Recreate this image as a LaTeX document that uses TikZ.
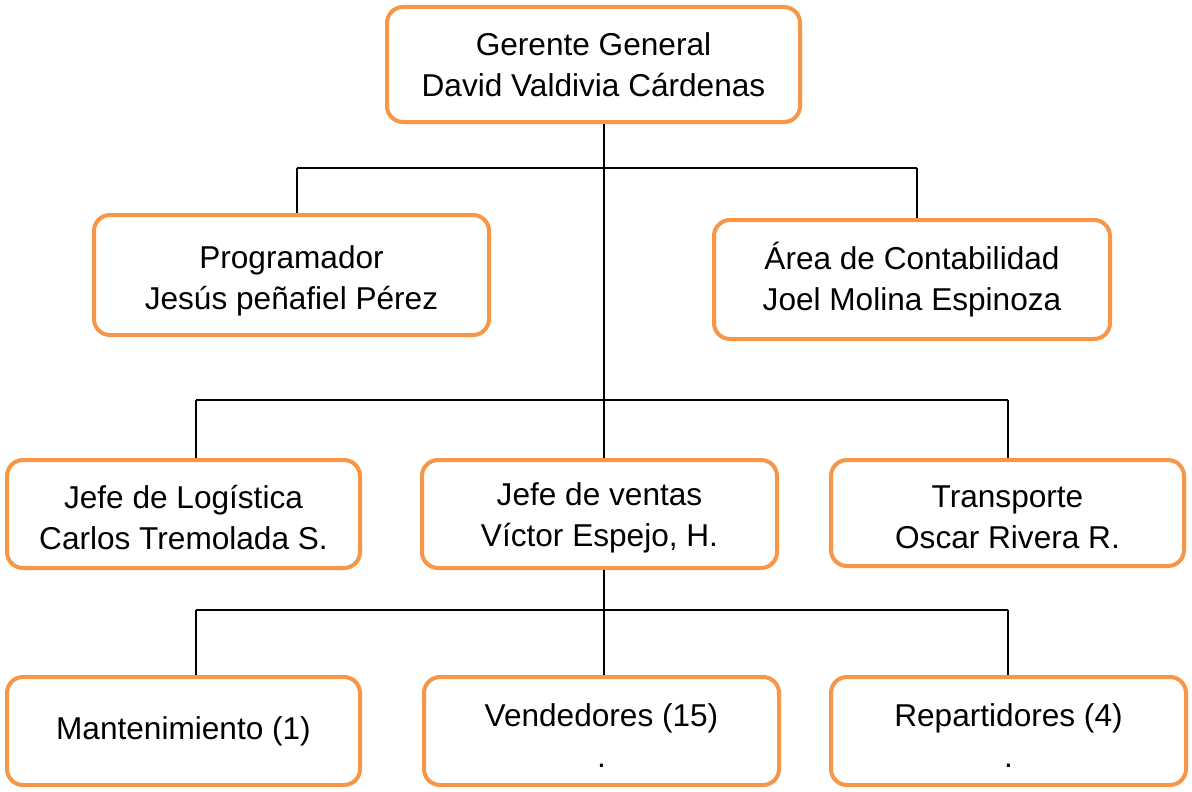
\documentclass[tikz,border=0pt]{standalone}
\usepackage{fontspec}
\setmainfont{Liberation Sans}
\definecolor{boxorange}{HTML}{F79646}
\begin{document}
\begin{tikzpicture}[x=1pt,y=-1pt,
  box/.style={draw=boxorange, line width=4pt, rounded corners=16pt, fill=white,
    inner sep=0pt},
  txt/.style={align=center, inner sep=0pt, font=\fontsize{31.6}{41}\selectfont},
  conn/.style={draw=black, line width=2pt}]
\useasboundingbox[fill=white] (0,0) rectangle (1192,792);
\node[box, minimum width=413pt, minimum height=115pt, label={[txt,yshift=0pt]center:Gerente General\\David Valdivia Cárdenas}] (top) at (593.5,64.5) {};
\node[box, minimum width=395pt, minimum height=120pt, label={[txt,yshift=-6pt]center:Programador\\Jesús peñafiel Pérez}] (prog) at (291.5,275) {};
\node[box, minimum width=396pt, minimum height=119pt, label={[txt,yshift=0pt]center:Área de Contabilidad\\Joel Molina Espinoza}] (cont) at (912,279.5) {};
\node[box, minimum width=353pt, minimum height=108pt, label={[txt,yshift=-4pt]center:Jefe de Logística\\Carlos Tremolada S.}] (log) at (183.5,514) {};
\node[box, minimum width=355pt, minimum height=108pt, label={[txt,yshift=-4pt]center:Jefe de ventas\\Víctor Espejo, H.}] (ventas) at (599.5,514) {};
\node[box, minimum width=353pt, minimum height=106pt, label={[txt,yshift=-4pt]center:Transporte\\Oscar Rivera R.}] (trans) at (1007.5,513) {};
\node[box, minimum width=353pt, minimum height=108pt, label={[txt,yshift=0pt]center:Mantenimiento (1)}] (mant) at (183.5,731) {};
\node[box, minimum width=355pt, minimum height=108pt, label={[txt,yshift=-5pt]center:Vendedores (15)\\.}] (vend) at (601.5,731) {};
\node[box, minimum width=355pt, minimum height=108pt, label={[txt,yshift=-5pt]center:Repartidores (4)\\.}] (rep) at (1008.5,731) {};
\coordinate (t) at (604,0);
\coordinate (h1) at (0,168);
\coordinate (h2) at (0,400);
\coordinate (h3) at (0,610);
\coordinate (l1) at (297,0);
\coordinate (r1) at (917,0);
\coordinate (l2) at (196,0);
\coordinate (r2) at (1008,0);
% trunk
\draw[conn] (top.south -| t) -- (ventas.north -| t);
\draw[conn] (l1 |- h1) -- (r1 |- h1);
\draw[conn] (l1 |- h1) -- (prog.north -| l1);
\draw[conn] (r1 |- h1) -- (cont.north -| r1);
\draw[conn] (l2 |- h2) -- (r2 |- h2);
\draw[conn] (l2 |- h2) -- (log.north -| l2);
\draw[conn] (r2 |- h2) -- (trans.north -| r2);
\draw[conn] (ventas.south -| t) -- (vend.north -| t);
\draw[conn] (l2 |- h3) -- (r2 |- h3);
\draw[conn] (l2 |- h3) -- (mant.north -| l2);
\draw[conn] (r2 |- h3) -- (rep.north -| r2);
\end{tikzpicture}
\end{document}
